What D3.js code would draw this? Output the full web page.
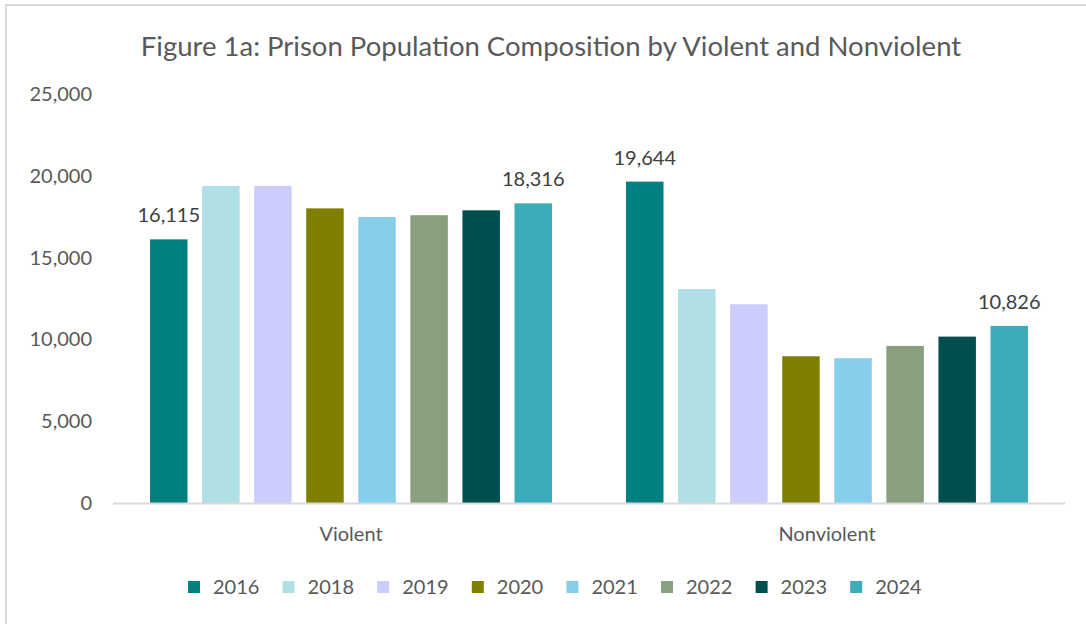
<!DOCTYPE html>
<html>
<head>
<meta charset="utf-8">
<script src="https://cdn.jsdelivr.net/npm/d3@7"></script>
<style>
  body { margin: 0; background: #fff; }
  svg { display: block; font-family: Lato, 'Open Sans', sans-serif; }
</style>
</head>
<body>
<div id="chart"></div>
<script>
'use strict';

// data
const categories = ['Violent', 'Nonviolent'];
const years = ['2016', '2018', '2019', '2020', '2021', '2022', '2023', '2024'];
const violent = [16115, 19380, 19380, 18010, 17480, 17590, 17890, 18316];
const nonviolent = [19644, 13080, 12150, 8970, 8850, 9600, 10170, 10826];
const yTicks = [0, 5000, 10000, 15000, 20000, 25000];
const colors = ['#008080', '#b0e0e6', '#ccccff', '#808000', '#87ceeb', '#88a080', '#004f4f', '#3cacb9'];

// labelled bars (category, year)
const labelled = [['Violent', '2016'], ['Violent', '2024'], ['Nonviolent', '2016'], ['Nonviolent', '2024']];

const width = 1086, height = 624;
const margin = { top: 94, left: 113, right: 21, bottom: 121 };
const text_color = '#595959';

const svg = d3.select('#chart').append('svg')
    .attr('width', width)
    .attr('height', height);

// frame (chart border, cropped on right and bottom)
svg.append('path')
    .attr('d', `M6,${height} V5 H${width}`)
    .attr('fill', 'none')
    .attr('stroke', '#d9d9d9')
    .attr('stroke-width', 2);

// title
svg.append('text')
    .attr('x', 551)
    .attr('y', 56)
    .attr('text-anchor', 'middle')
    .attr('font-size', '27.5px')
    .attr('fill', text_color)
    .text('Figure 1a: Prison Population Composition by Violent and Nonviolent');

// scales
const x0 = d3.scaleBand()
    .domain(categories)
    .range([margin.left, width - margin.right]);

const x1 = d3.scaleBand()
    .domain(years)
    .range([37, x0.bandwidth() - 37])
    .paddingInner(0.28);

const y = d3.scaleLinear()
    .domain([0, 25000])
    .range([height - margin.bottom, margin.top]);

const color = d3.scaleOrdinal().domain(years).range(colors);

// build rows for drawing
const values = { 'Violent': violent, 'Nonviolent': nonviolent };
const rows = [];
categories.forEach(c => {
    years.forEach((yr, i) => rows.push({ cat: c, year: yr, value: values[c][i] }));
});

// y axis labels (no line)
const yAxis = d3.axisLeft(y)
    .tickValues(yTicks)
    .tickSize(0)
    .tickPadding(0)
    .tickFormat(d3.format(','));

const yg = svg.append('g')
    .attr('transform', `translate(92,0)`)
    .call(yAxis);
yg.select('.domain').remove();
yg.selectAll('text')
    .attr('font-size', '20px')
    .attr('font-family', 'Lato, sans-serif')
    .attr('fill', text_color);

// bars
svg.append('g')
    .selectAll('rect')
    .data(rows)
    .enter()
    .append('rect')
    .attr('x', d => x0(d.cat) + x1(d.year))
    .attr('y', d => y(d.value))
    .attr('width', x1.bandwidth())
    .attr('height', d => y(0) - y(d.value))
    .attr('fill', d => color(d.year));

// baseline
svg.append('line')
    .attr('x1', margin.left)
    .attr('x2', width - margin.right)
    .attr('y1', y(0) + 0.5)
    .attr('y2', y(0) + 0.5)
    .attr('stroke', '#d9d9d9')
    .attr('stroke-width', 2);

// category axis
const xAxis = d3.axisBottom(x0).tickSize(0).tickPadding(0);
const xg = svg.append('g')
    .attr('transform', `translate(0,${y(0) + 24})`)
    .call(xAxis);
xg.select('.domain').remove();
xg.selectAll('text')
    .attr('font-size', '20px')
    .attr('font-family', 'Lato, sans-serif')
    .attr('fill', text_color);

// data labels
svg.append('g')
    .selectAll('text')
    .data(rows.filter(d => labelled.some(l => l[0] === d.cat && l[1] === d.year)))
    .enter()
    .append('text')
    .attr('x', d => x0(d.cat) + x1(d.year) + x1.bandwidth() / 2)
    .attr('y', d => y(d.value) - 17)
    .attr('text-anchor', 'middle')
    .attr('font-size', '20px')
    .attr('fill', '#404040')
    .text(d => d3.format(',')(d.value));

// legend
const legend = svg.append('g')
    .attr('transform', 'translate(188,587)');

const item = legend.selectAll('g')
    .data(years)
    .enter()
    .append('g')
    .attr('transform', (d, i) => `translate(${i * 94.6},0)`);

item.append('rect')
    .attr('x', 0)
    .attr('y', -6)
    .attr('width', 12)
    .attr('height', 12)
    .attr('fill', d => color(d));

item.append('text')
    .attr('x', 25)
    .attr('y', 0)
    .attr('dy', '0.35em')
    .attr('font-size', '20px')
    .attr('fill', text_color)
    .text(d => d);
</script>
</body>
</html>
